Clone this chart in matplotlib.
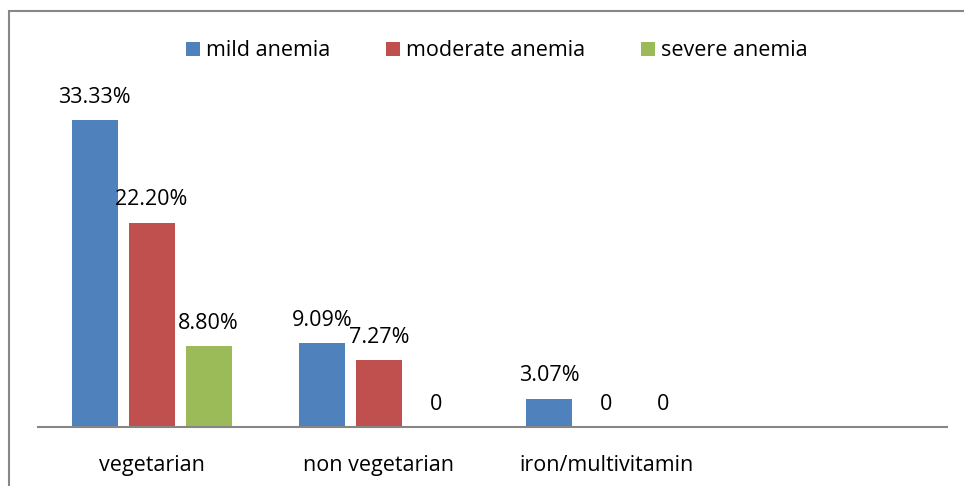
import matplotlib.pyplot as plt
import numpy as np
from matplotlib.patches import Rectangle

plt.rcParams['font.family'] = ['Open Sans', 'DejaVu Sans']

categories = ["vegetarian", "non vegetarian", "iron/multivitamin", ""]
mild = [33.33, 9.09, 3.07, np.nan]
moderate = [22.20, 7.27, 0, np.nan]
severe = [8.80, 0, 0, np.nan]
labels_mild = ["33.33%", "9.09%", "3.07%", ""]
labels_moderate = ["22.20%", "7.27%", "0", ""]
labels_severe = ["8.80%", "0", "0", ""]

series = [
    ("mild anemia", mild, labels_mild, "#4F81BD"),
    ("moderate anemia", moderate, labels_moderate, "#C0504D"),
    ("severe anemia", severe, labels_severe, "#9BBB59"),
]

W, H = 964, 486
fs = 15.5
fig = plt.figure(figsize=(W / 100, H / 100), dpi=100)
ax = fig.add_axes([38 / W, (H - 427) / H, (947 - 38) / W, (427 - 58.6) / H])

# outer chart frame (cut off at right / bottom like the source)
fig.patches.append(Rectangle((8.5 / W, -0.1), 1.2, (H - 11) / H + 0.1,
                             transform=fig.transFigure, fill=False,
                             edgecolor="#878787", linewidth=1.5))

x = np.arange(len(categories))
step = 57 / 227.25
width = 46 / 227.25
for i, (name, vals, labs, color) in enumerate(series):
    pos = x + (i - 1) * step
    v = np.array(vals, dtype=float)
    ax.bar(pos, np.nan_to_num(v), width, color=color, label=name)
    for p, val, lab in zip(pos, v, labs):
        if lab:
            ax.annotate(lab, (p, val), xytext=(0, 16.5), textcoords="offset points",
                        ha="center", va="center", fontsize=fs, color="black")

ax.set_xlim(-0.5, len(categories) - 0.5)
ax.set_ylim(0, 40)
ax.set_xticks(x)
ax.set_xticklabels(categories, fontsize=fs)
ax.tick_params(axis="x", length=0, pad=20)
ax.set_yticks([])
for s in ["left", "right", "top"]:
    ax.spines[s].set_visible(False)
ax.spines["bottom"].set_color("#868686")
ax.spines["bottom"].set_linewidth(1.5)

fig.legend(loc="center", bbox_to_anchor=(497 / W, 1 - 51 / H), ncol=3,
           frameon=False, fontsize=fs, handlelength=0.62, handleheight=0.66,
           handletextpad=0.3, columnspacing=2.6)

fig.savefig("out.png", dpi=100)
